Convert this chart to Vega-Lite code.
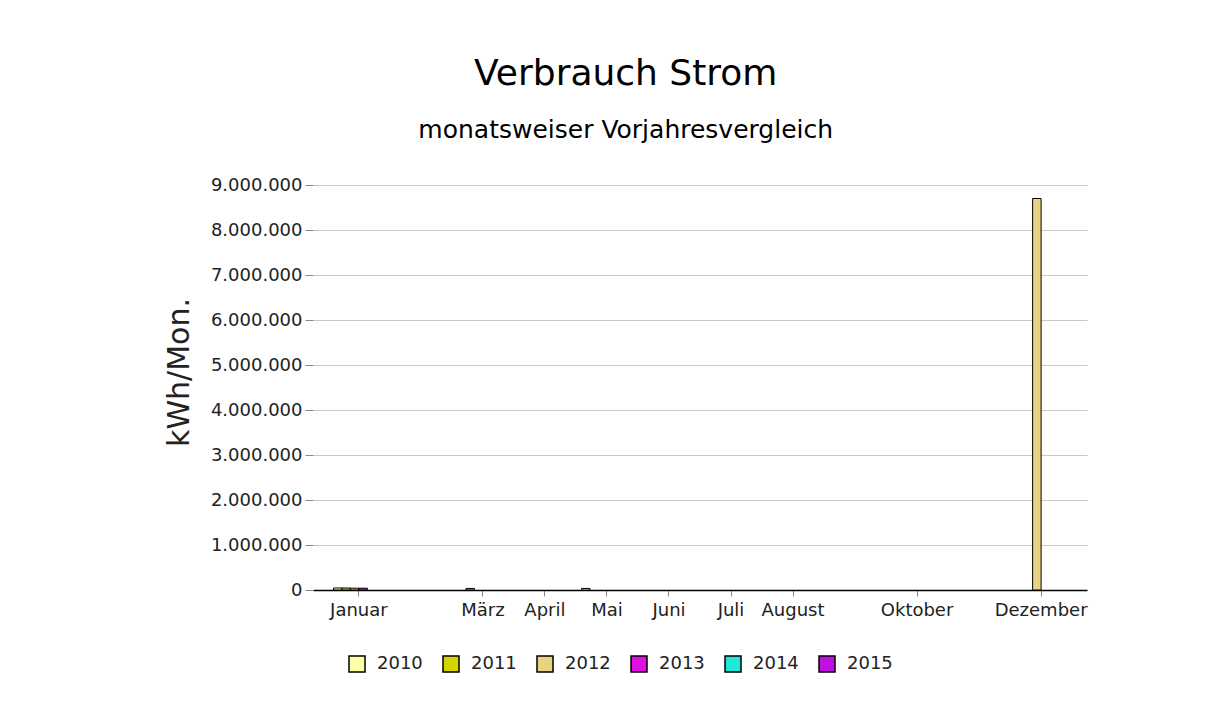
{
  "$schema": "https://vega.github.io/schema/vega-lite/v6.json",
  "width": 774,
  "height": 405,
  "autosize": {"type": "none"},
  "padding": {"left": 313, "top": 185, "right": 143, "bottom": 130},
  "background": "white",
  "title": {
    "text": "Verbrauch Strom",
    "subtitle": "monatsweiser Vorjahresvergleich",
    "anchor": "middle",
    "frame": "bounds",
    "font": "DejaVu Sans",
    "fontSize": 36,
    "fontWeight": "normal",
    "color": "#000000",
    "subtitleFont": "DejaVu Sans",
    "subtitleFontSize": 25,
    "subtitleColor": "#000000",
    "subtitlePadding": 25,
    "offset": 32
  },
  "data": {
    "values": [
      {"Monat": "Januar", "Jahr": "2010", "Verbrauch": 45000},
      {"Monat": "Januar", "Jahr": "2011", "Verbrauch": 45000},
      {"Monat": "Januar", "Jahr": "2012", "Verbrauch": 40000},
      {"Monat": "Januar", "Jahr": "2013", "Verbrauch": 40000},
      {"Monat": "März", "Jahr": "2011", "Verbrauch": 35000},
      {"Monat": "Mai", "Jahr": "2010", "Verbrauch": 35000},
      {"Monat": "Dezember", "Jahr": "2012", "Verbrauch": 8700000}
    ]
  },
  "mark": {"type": "bar", "stroke": "black", "strokeWidth": 1},
  "encoding": {
    "x": {
      "field": "Monat",
      "type": "nominal",
      "sort": null,
      "scale": {
        "domain": ["Januar", "Februar", "März", "April", "Mai", "Juni", "Juli", "August", "September", "Oktober", "November", "Dezember"],
        "paddingInner": 0.18,
        "paddingOuter": 0.33
      },
      "axis": {
        "title": null,
        "values": ["Januar", "März", "April", "Mai", "Juni", "Juli", "August", "Oktober", "Dezember"],
        "labelAngle": 0,
        "labelFont": "DejaVu Sans",
        "labelFontSize": 18,
        "labelColor": "#222222",
        "labelPadding": 5,
        "tickSize": 6,
        "tickColor": "#888888",
        "domainColor": "#000000",
        "domainWidth": 1.5,
        "grid": false
      }
    },
    "xOffset": {
      "field": "Jahr",
      "type": "nominal",
      "scale": {"domain": ["2010", "2011", "2012", "2013", "2014", "2015"]}
    },
    "y": {
      "field": "Verbrauch",
      "type": "quantitative",
      "scale": {"domain": [0, 9000000]},
      "axis": {
        "title": "kWh/Mon.",
        "titleFont": "DejaVu Sans",
        "titleFontSize": 30,
        "titleFontWeight": "normal",
        "titleColor": "#222222",
        "titlePadding": 16,
        "titleY": 187,
        "values": [0, 1000000, 2000000, 3000000, 4000000, 5000000, 6000000, 7000000, 8000000, 9000000],
        "format": ",d",
        "labelFont": "DejaVu Sans",
        "labelFontSize": 18,
        "labelColor": "#222222",
        "labelPadding": 3,
        "tickSize": 8,
        "tickColor": "#888888",
        "domain": false,
        "grid": true,
        "gridColor": "#c8c8c8",
        "gridWidth": 1
      }
    },
    "color": {
      "field": "Jahr",
      "type": "nominal",
      "scale": {
        "domain": ["2010", "2011", "2012", "2013", "2014", "2015"],
        "range": ["#ffffa8", "#d4d400", "#e8d480", "#e010e0", "#20e8d8", "#c010e0"]
      },
      "legend": {
        "orient": "none",
        "legendX": 35,
        "legendY": 470,
        "direction": "horizontal",
        "columns": 6,
        "title": null,
        "padding": 0,
        "symbolType": "square",
        "symbolSize": 256,
        "symbolStrokeColor": "#000000",
        "symbolStrokeWidth": 1.5,
        "symbolOpacity": 1,
        "labelFont": "DejaVu Sans",
        "labelFontSize": 18,
        "labelColor": "#222222",
        "labelOffset": 11,
        "columnPadding": 17
      }
    }
  },
  "config": {
    "locale": {
      "number": {"decimal": ",", "thousands": ".", "grouping": [3], "currency": ["", " €"]}
    },
    "view": {"stroke": null}
  }
}
